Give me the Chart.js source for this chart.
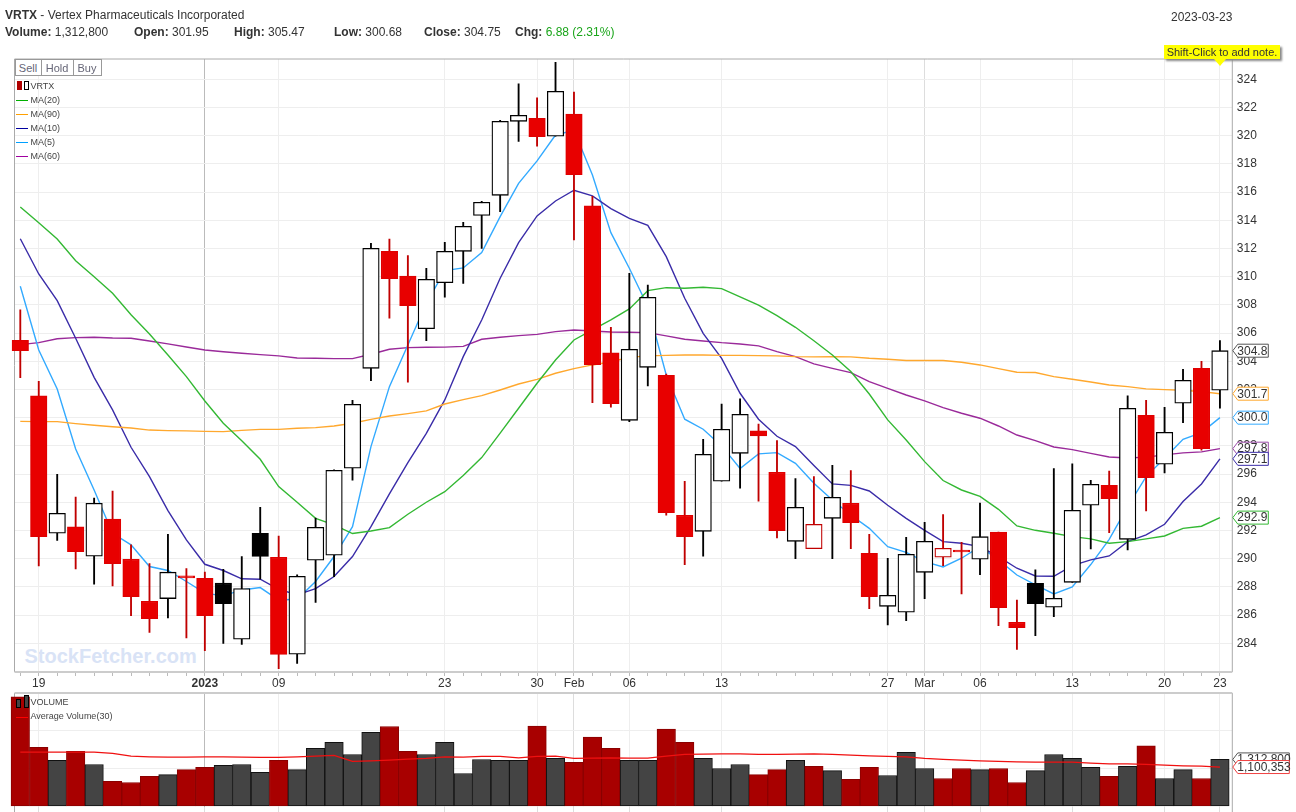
<!DOCTYPE html>
<html>
<head>
<meta charset="utf-8">
<title>VRTX</title>
<script src="https://cdn.jsdelivr.net/npm/chart.js@4"></script>
<style>
html, body { margin: 0; padding: 0; width: 1296px; height: 812px; overflow: hidden; background: #fff; }
body { position: relative; font-family: "Liberation Sans", Arial, sans-serif; color: #333; font-size: 12px; }
canvas { position: absolute; left: 0; }
.txt { position: absolute; white-space: nowrap; line-height: 14px; }
.txt b { color: #333; }
.leg { position: absolute; left: 30.5px; font-size: 9px; line-height: 10px; color: #444; white-space: nowrap; }
.swatch { position: absolute; left: 16px; width: 12px; height: 1px; }
.btn { position: absolute; top: 59px; height: 17px; line-height: 17px; box-sizing: border-box; border: 1px solid #999; text-align: center; font-size: 11px; color: #667; background: #fff; }
.ic { position: absolute; box-sizing: border-box; }
#note { position: absolute; left: 1164px; top: 45px; width: 116px; height: 14px; line-height: 14px; background: #ff0; text-align: center; font-size: 11px; color: #333; box-shadow: 2px 2px 2px #888; white-space: nowrap; }
#noteTip { position: absolute; left: 1214px; top: 59px; width: 0; height: 0; border-left: 6px solid transparent; border-right: 6px solid transparent; border-top: 7px solid #ff0; }
#mark { position: absolute; left: 24.5px; top: 644px; font-size: 20px; line-height: 24px; font-weight: bold; color: #d9e3f6; }
</style>
</head>
<body>
<div id="mark">StockFetcher.com</div>
<canvas id="priceChart" width="1296" height="692" style="top:0"></canvas>
<canvas id="volChart" width="1296" height="120" style="top:692px"></canvas>

<div class="txt" style="left:5px;top:8px"><b>VRTX</b> - Vertex Pharmaceuticals Incorporated</div>
<div class="txt" style="left:5px;top:25px"><b>Volume:</b> 1,312,800</div>
<div class="txt" style="left:134px;top:25px"><b>Open:</b> 301.95</div>
<div class="txt" style="left:234px;top:25px"><b>High:</b> 305.47</div>
<div class="txt" style="left:334px;top:25px"><b>Low:</b> 300.68</div>
<div class="txt" style="left:424px;top:25px"><b>Close:</b> 304.75</div>
<div class="txt" style="left:515px;top:25px"><b>Chg:</b> <span style="color:#1aa51a">6.88 (2.31%)</span></div>
<div class="txt" style="left:1171px;top:10px">2023-03-23</div>
<div id="note">Shift-Click to add note.</div>
<div id="noteTip"></div>

<div class="btn" style="left:14.5px;width:27px">Sell</div>
<div class="btn" style="left:40.5px;width:33px">Hold</div>
<div class="btn" style="left:72.5px;width:29px">Buy</div>

<div class="ic" style="left:17px;top:81px;width:5px;height:9px;background:#b00000"></div>
<div class="ic" style="left:23.5px;top:81px;width:5px;height:9px;border:1px solid #000"></div>
<div class="leg" style="top:81px">VRTX</div>
<div class="swatch" style="top:100px;background:#00b000"></div><div class="leg" style="top:95px">MA(20)</div>
<div class="swatch" style="top:114px;background:#ffa000"></div><div class="leg" style="top:109px">MA(90)</div>
<div class="swatch" style="top:128px;background:#0000a0"></div><div class="leg" style="top:123px">MA(10)</div>
<div class="swatch" style="top:142px;background:#00a0ff"></div><div class="leg" style="top:137px">MA(5)</div>
<div class="swatch" style="top:156px;background:#a000a0"></div><div class="leg" style="top:151px">MA(60)</div>

<div class="ic" style="left:16px;top:699px;width:5px;height:9px;background:#444;border:1px solid #000"></div>
<div class="ic" style="left:24px;top:695px;width:5px;height:13px;background:#444;border:1px solid #000"></div>
<div class="leg" style="top:697px">VOLUME</div>
<div class="swatch" style="top:717px;background:#f00"></div><div class="leg" style="top:711px">Average Volume(30)</div>

<script>
"use strict";
// one label per trading day, blank where the axis shows nothing
const dayLabels = [
    "", "19", "", "", "", "", "", "", "", "",
    "2023", "", "", "", "09", "", "", "", "", "",
    "", "", "", "23", "", "", "", "", "30", "",
    "Feb", "", "", "06", "", "", "", "", "13", "",
    "", "", "", "", "", "", "", "27", "", "Mar",
    "", "", "06", "", "", "", "", "13", "", "",
    "", "", "20", "", "", "23"
];

// r = red body, w = white body, b = black body, o = white body with red outline
const kinds = "rrwrwrrrwrrbwbrwwwwwrrwwwwwwrwrrrwwrrwwwrrwowrrwwworwrrbwwwrwrwwrw".split("");

const bodyTop = [
    305.49, 301.54, 293.22, 292.25, 293.93, 292.81, 289.96, 286.98, 289.04, 288.78,
    288.61, 288.26, 287.88, 291.80, 290.10, 288.75, 292.22, 296.27, 300.95, 312.01,
    311.80, 310.05, 309.81, 311.80, 313.57, 315.28, 321.02, 321.45, 321.23, 323.15,
    321.54, 315.02, 304.59, 304.85, 308.54, 303.00, 293.08, 297.40, 299.18, 300.24,
    299.06, 296.13, 293.64, 292.44, 294.35, 293.93, 290.38, 287.40, 290.31, 291.23,
    290.74, 290.60, 291.56, 291.89, 285.49, 288.25, 287.19, 293.43, 295.27, 295.20,
    300.66, 300.17, 298.96, 302.65, 303.50, 304.75
];
const bodyBottom = [
    304.75, 291.56, 291.80, 290.50, 290.17, 289.65, 287.31, 285.75, 287.17, 288.64,
    285.96, 286.81, 284.28, 290.15, 283.20, 283.22, 289.89, 290.24, 296.41, 303.50,
    309.86, 307.95, 306.31, 309.58, 311.80, 314.35, 315.77, 321.02, 319.93, 319.96,
    317.24, 303.76, 301.00, 299.81, 303.57, 293.27, 291.56, 291.94, 295.49, 297.47,
    298.70, 291.99, 291.23, 290.71, 292.86, 292.56, 287.31, 286.62, 286.20, 289.03,
    290.10, 290.47, 289.96, 286.53, 285.11, 286.81, 286.55, 288.32, 293.79, 294.26,
    291.37, 295.75, 296.70, 301.02, 297.80, 301.95
];
const highs = [
    307.64, 302.58, 295.98, 294.37, 294.30, 294.80, 290.98, 289.65, 291.73, 289.30,
    289.04, 289.25, 290.15, 293.64, 291.60, 288.85, 292.88, 296.30, 301.23, 312.36,
    312.67, 311.50, 310.60, 312.44, 313.86, 315.35, 321.09, 323.67, 322.68, 325.20,
    323.10, 315.70, 306.41, 310.24, 309.41, 303.10, 295.49, 298.47, 300.97, 301.33,
    299.55, 298.37, 295.68, 295.82, 296.62, 296.24, 291.73, 290.03, 291.52, 292.58,
    293.12, 291.16, 293.95, 291.89, 287.07, 289.20, 296.39, 296.72, 295.56, 296.22,
    301.54, 301.23, 300.74, 303.43, 304.00, 305.47
];
const lows = [
    302.84, 289.49, 291.30, 289.27, 288.19, 288.07, 285.96, 284.76, 285.80, 284.38,
    283.48, 283.98, 283.91, 288.54, 282.20, 282.56, 286.89, 288.73, 295.56, 302.63,
    307.05, 302.51, 305.46, 308.54, 309.53, 312.01, 314.61, 319.60, 319.25, 319.96,
    312.60, 301.07, 300.74, 299.72, 302.25, 293.08, 289.58, 290.17, 295.49, 295.00,
    294.07, 291.47, 290.00, 290.71, 290.00, 290.71, 286.46, 285.30, 285.60, 287.17,
    289.50, 287.50, 288.87, 285.25, 283.57, 284.54, 285.89, 288.32, 290.69, 291.85,
    290.62, 293.38, 296.08, 299.65, 297.70, 300.68
];

const ma20 = [
    314.94, 313.83, 312.67, 311.13, 310.00, 308.82, 307.30, 305.93, 304.45, 302.91,
    301.18, 299.60, 298.37, 297.05, 295.11, 294.00, 292.86, 292.39, 291.78, 291.96,
    292.20, 293.15, 294.00, 294.75, 295.89, 297.17, 298.90, 300.67, 302.44, 304.09,
    305.51, 306.22, 306.93, 307.71, 309.01, 309.22, 309.18, 309.25, 309.15, 308.56,
    307.99, 307.24, 306.41, 305.46, 304.45, 303.27, 301.68, 299.84, 298.42, 296.88,
    295.54, 294.87, 294.42, 293.50, 292.32, 292.01, 291.80, 291.56, 291.40, 291.09,
    291.21, 291.40, 291.61, 292.15, 292.30, 292.91
];
const ma90 = [
    299.74, 299.72, 299.72, 299.58, 299.46, 299.36, 299.27, 299.12, 299.08, 299.06,
    299.03, 299.01, 299.10, 299.17, 299.17, 299.25, 299.29, 299.41, 299.60, 299.88,
    300.12, 300.29, 300.48, 300.97, 301.28, 301.56, 301.96, 302.39, 302.72, 303.15,
    303.48, 303.74, 303.97, 304.28, 304.38, 304.42, 304.45, 304.45, 304.42, 304.42,
    304.40, 304.38, 304.33, 304.31, 304.33, 304.31, 304.21, 304.14, 304.05, 304.05,
    304.05, 303.93, 303.74, 303.48, 303.22, 303.20, 302.91, 302.72, 302.53, 302.32,
    302.20, 302.04, 301.99, 301.94, 301.85, 301.70
];
const ma10 = [
    312.69, 310.19, 308.30, 305.63, 302.86, 300.55, 297.90, 295.82, 293.41, 291.33,
    289.60, 289.16, 288.57, 288.54, 287.83, 287.43, 287.88, 288.73, 290.15, 292.27,
    294.59, 296.81, 298.89, 301.26, 304.33, 306.93, 309.89, 312.42, 314.31, 315.37,
    316.13, 315.73, 314.83, 314.14, 313.64, 311.42, 308.47, 305.98, 304.21, 301.73,
    299.89, 298.68, 297.95, 296.60, 295.30, 295.20, 294.80, 293.79, 292.86, 292.01,
    291.21, 291.09, 290.85, 290.15, 289.32, 288.77, 288.75, 289.51, 289.91, 290.19,
    291.21, 291.68, 292.44, 294.05, 295.30, 297.08
];
const ma5 = [
    309.32, 304.80, 302.03, 297.78, 294.87, 291.80, 290.98, 289.44, 289.16, 288.38,
    287.55, 287.36, 287.78, 287.95, 287.07, 287.12, 288.38, 290.15, 292.27, 297.95,
    302.20, 305.16, 308.11, 310.43, 310.62, 311.71, 314.26, 316.62, 318.21, 320.05,
    320.38, 317.21, 313.12, 310.60, 307.88, 303.03, 299.89, 299.18, 298.00, 296.39,
    297.43, 297.52, 296.76, 295.35, 294.16, 293.10, 292.15, 290.85, 290.45, 289.79,
    289.41, 290.03, 290.85, 289.91, 288.84, 288.14, 287.50, 288.00, 289.58, 291.37,
    293.69, 295.82, 297.12, 298.47, 298.94, 300.00
];
const ma60 = [
    305.18, 305.32, 305.60, 305.68, 305.70, 305.65, 305.63, 305.44, 305.23, 305.01,
    304.80, 304.68, 304.57, 304.47, 304.38, 304.23, 304.21, 304.19, 304.19, 304.50,
    304.85, 304.97, 304.99, 305.00, 305.06, 305.56, 305.70, 305.82, 305.91, 306.10,
    306.22, 306.15, 306.08, 306.06, 306.03, 305.80, 305.56, 305.44, 305.32, 305.23,
    305.09, 304.68, 304.33, 303.81, 303.50, 303.20, 302.56, 302.08, 301.61, 301.19,
    300.71, 300.31, 299.96, 299.41, 298.77, 298.37, 297.92, 297.73, 297.47, 297.21,
    297.14, 297.20, 297.36, 297.50, 297.57, 297.80
];

const volumes = [
    3060000, 1650000, 1285000, 1535000, 1170000, 700000, 670000, 840000, 890000, 1030000,
    1090000, 1145000, 1170000, 950000, 1285000, 1030000, 1620000, 1790000, 1450000, 2070000,
    2230000, 1535000, 1450000, 1790000, 920000, 1310000, 1285000, 1285000, 2240000, 1340000,
    1230000, 1935000, 1620000, 1285000, 1285000, 2160000, 1790000, 1340000, 1060000, 1170000,
    890000, 1030000, 1285000, 1120000, 1000000, 755000, 1090000, 865000, 1510000, 1060000,
    780000, 1060000, 1030000, 1060000, 670000, 1000000, 1450000, 1340000, 1090000, 840000,
    1120000, 1690000, 780000, 1030000, 780000, 1312800
];
// 1 = red volume bar, 0 = grey
const volumeRed = [
    1, 1, 0, 1, 0, 1, 1, 1, 0, 1,
    1, 0, 0, 0, 1, 0, 0, 0, 0, 0,
    1, 1, 0, 0, 0, 0, 0, 0, 1, 0,
    1, 1, 1, 0, 0, 1, 1, 0, 0, 0,
    1, 1, 0, 1, 0, 1, 1, 0, 0, 0,
    1, 1, 0, 1, 1, 0, 0, 0, 0, 1,
    0, 1, 0, 0, 1, 0
];
const avgVolume = [
    1517000, 1517000, 1517000, 1517000, 1517000, 1480000, 1405000, 1386000, 1377000, 1377000,
    1386000, 1386000, 1377000, 1368000, 1368000, 1386000, 1405000, 1424000, 1256000, 1275000,
    1293000, 1320000, 1340000, 1386000, 1377000, 1396000, 1396000, 1358000, 1396000, 1405000,
    1340000, 1349000, 1358000, 1349000, 1349000, 1405000, 1452000, 1461000, 1470000, 1470000,
    1452000, 1452000, 1461000, 1470000, 1452000, 1433000, 1414000, 1396000, 1386000, 1340000,
    1312000, 1293000, 1275000, 1256000, 1247000, 1237000, 1237000, 1237000, 1210000, 1191000,
    1191000, 1172000, 1154000, 1135000, 1126000, 1100353
];

const xMin = -0.314;
const xMax = 65.67;
const plotRight = 1232.3;

const kindFill = { r: "#e80000", w: "#ffffff", b: "#000000", o: "#ffffff" };
const kindEdge = { r: "#e00000", w: "#000000", b: "#000000", o: "#c00000" };
const kindWick = { r: "#c00000", w: "#000000", b: "#000000", o: "#c00000" };

function gridColor(label) {
    if (label === "2023") return "#bbbbbb";
    if (label === "Feb" || label === "Mar") return "#dddddd";
    return label ? "#eeeeee" : "rgba(0,0,0,0)";
}

function dayAxis(showLabels) {
    return {
        type: "linear",
        offset: false,
        min: xMin,
        max: xMax,
        grid: {
            offset: false,
            color: (c) => c.tick ? gridColor(dayLabels[c.tick.value]) : "rgba(0,0,0,0)",
            tickColor: (c) => {
                if (!showLabels) return c.tick && dayLabels[c.tick.value] ? "#dddddd" : "rgba(0,0,0,0)";
                return "#bbbbbb";
            },
            tickLength: showLabels ? 4 : 6
        },
        border: { display: false },
        ticks: {
            stepSize: 1,
            includeBounds: false,
            autoSkip: false,
            maxRotation: 0,
            minRotation: 0,
            padding: 0,
            display: showLabels,
            color: "#333",
            font: (c) => ({
                family: "'Liberation Sans'",
                size: 12,
                weight: c.tick && c.tick.label === "2023" ? "bold" : "normal"
            }),
            callback: (v) => dayLabels[v] || ""
        }
    };
}

// axis frame, drawn under the bars
function framePlugin(topColor, topWidth, bottomLine, bottomExtra) {
    return {
        id: "frame",
        beforeDatasetsDraw(chart) {
            const a = chart.chartArea;
            const c = chart.ctx;
            c.save();
            c.strokeStyle = "#aaaaaa";
            c.lineWidth = 1;
            c.beginPath();
            c.moveTo(a.left, a.top);
            c.lineTo(a.left, a.bottom + bottomExtra);
            c.moveTo(a.right, a.top);
            c.lineTo(a.right, a.bottom + bottomExtra);
            c.stroke();
            c.strokeStyle = topColor;
            c.lineWidth = topWidth;
            c.beginPath();
            c.moveTo(a.left, a.top);
            c.lineTo(a.right, a.top);
            c.stroke();
            if (bottomLine) {
                c.strokeStyle = "#cccccc";
                c.lineWidth = 2;
                c.beginPath();
                c.moveTo(a.left, a.bottom);
                c.lineTo(a.right, a.bottom);
                c.stroke();
            }
            c.restore();
        }
    };
}

// last-value tags on the right axis
function tagPlugin(tags, width) {
    return {
        id: "tags",
        afterDraw(chart) {
            const c = chart.ctx;
            const yScale = chart.scales.y;
            const x = chart.chartArea.right + 0.5;
            c.save();
            c.font = "12px 'Liberation Sans'";
            c.textBaseline = "middle";
            tags.forEach((t) => {
                const y = yScale.getPixelForValue(t.value);
                c.beginPath();
                c.moveTo(x, y);
                c.lineTo(x + 5, y - 6.5);
                c.lineTo(x + width, y - 6.5);
                c.lineTo(x + width, y + 6.5);
                c.lineTo(x + 5, y + 6.5);
                c.closePath();
                c.fillStyle = "#ffffff";
                c.fill();
                c.strokeStyle = t.color;
                c.lineWidth = 1;
                c.stroke();
                c.fillStyle = "#333";
                c.fillText(t.text, x + 4.5, y + 0.5);
            });
            c.restore();
        }
    };
}

const xs = dayLabels.map((d, i) => i);

function lineSet(label, values, color) {
    return {
        type: "line",
        label: label,
        data: values.map((v, i) => ({ x: i, y: v })),
        borderColor: color,
        borderWidth: 1.4,
        pointRadius: 0,
        tension: 0,
        order: 3
    };
}

const maLast = (arr) => arr[arr.length - 1];

const priceChart = new Chart(document.getElementById("priceChart").getContext("2d"), {
    type: "bar",
    data: {
        datasets: [
            {
                label: "VRTX",
                data: xs.map((i) => ({ x: i, y: [bodyBottom[i], bodyTop[i]] })),
                backgroundColor: kinds.map((k) => kindFill[k]),
                borderColor: kinds.map((k) => kindEdge[k]),
                borderWidth: 1.3,
                borderSkipped: false,
                barThickness: 16.5,
                grouped: false,
                clip: false,
                order: 1
            },
            {
                label: "range",
                data: xs.map((i) => ({ x: i, y: [lows[i], highs[i]] })),
                backgroundColor: kinds.map((k) => kindWick[k]),
                borderWidth: 0,
                barThickness: 1.2,
                grouped: false,
                order: 2
            },
            lineSet("MA(20)", ma20, "#33b833"),
            lineSet("MA(90)", ma90, "#ffa82e"),
            lineSet("MA(10)", ma10, "#3a2ca8"),
            lineSet("MA(5)", ma5, "#33aaff"),
            lineSet("MA(60)", ma60, "#9a2a9a")
        ]
    },
    options: {
        responsive: false,
        animation: false,
        events: [],
        layout: { padding: { left: 14.5, top: 59, right: 0, bottom: 0 } },
        plugins: { legend: { display: false }, tooltip: { enabled: false } },
        scales: {
            x: {
                ...dayAxis(true),
                afterFit(s) { s.height = 20; }
            },
            y: {
                type: "linear",
                position: "right",
                min: 281.96,
                max: 325.44,
                grid: { color: "#eeeeee", drawTicks: false },
                border: { display: false },
                ticks: {
                    stepSize: 2,
                    includeBounds: false,
                    padding: 4.5,
                    color: "#333",
                    font: { family: "'Liberation Sans'", size: 12 },
                    callback: (v) => v > 283 ? String(v) : ""
                },
                afterFit(s) { s.width = 1296 - plotRight; }
            }
        }
    },
    plugins: [
        framePlugin("#aaaaaa", 1, true, 0),
        tagPlugin([
            { value: bodyTop[65], text: bodyTop[65].toFixed(1), color: "#555555" },
            { value: maLast(ma90), text: maLast(ma90).toFixed(1), color: "#ffa82e" },
            { value: maLast(ma5), text: maLast(ma5).toFixed(1), color: "#33aaff" },
            { value: maLast(ma60), text: maLast(ma60).toFixed(1), color: "#9a4aa8" },
            { value: maLast(ma10), text: maLast(ma10).toFixed(1), color: "#3a2ca8" },
            { value: maLast(ma20), text: maLast(ma20).toFixed(1), color: "#33b833" }
        ], 35.5)
    ]
});

const volChart = new Chart(document.getElementById("volChart").getContext("2d"), {
    type: "bar",
    data: {
        datasets: [
            {
                type: "line",
                label: "Average Volume(30)",
                data: xs.map((i) => ({ x: i, y: avgVolume[i] })),
                borderColor: "#f01010",
                borderWidth: 1.3,
                pointRadius: 0,
                tension: 0,
                order: 1
            },
            {
                label: "VOLUME",
                data: xs.map((i) => ({ x: i, y: volumes[i] })),
                backgroundColor: volumeRed.map((r) => r ? "#a80000" : "#444444"),
                borderColor: volumeRed.map((r) => r ? "#8a0000" : "#111111"),
                borderWidth: 1,
                borderSkipped: false,
                barThickness: 18.5,
                grouped: false,
                clip: false,
                order: 2
            }
        ]
    },
    options: {
        responsive: false,
        animation: false,
        events: [],
        layout: { padding: { left: 14.5, top: 1, right: 0, bottom: 0 } },
        plugins: { legend: { display: false }, tooltip: { enabled: false } },
        scales: {
            x: {
                ...dayAxis(false),
                afterFit(s) { s.height = 5.5; s.paddingTop = 0; s.paddingBottom = 0; }
            },
            y: {
                type: "linear",
                position: "right",
                min: 0,
                max: 3165000,
                grid: {
                    color: (c) => c.tick && c.tick.value > 0 && c.tick.value < 3000000 ? "#eeeeee" : "rgba(0,0,0,0)",
                    drawTicks: false
                },
                border: { display: false },
                ticks: {
                    stepSize: 1000000,
                    includeBounds: false,
                    padding: 4.5,
                    color: "#333",
                    font: { family: "'Liberation Sans'", size: 12 },
                    callback: (v) => v === 2000000 ? "2.0M" : ""
                },
                afterFit(s) { s.width = 1296 - plotRight; s.paddingTop = 0; s.paddingBottom = 0; }
            }
        }
    },
    plugins: [
        framePlugin("#cccccc", 2, false, 6),
        tagPlugin([
            { value: maLast(volumes), text: maLast(volumes).toLocaleString("en-US"), color: "#555555" },
            { value: maLast(avgVolume), text: maLast(avgVolume).toLocaleString("en-US"), color: "#f04040" }
        ], 56.5)
    ]
});
</script>
</body>
</html>
